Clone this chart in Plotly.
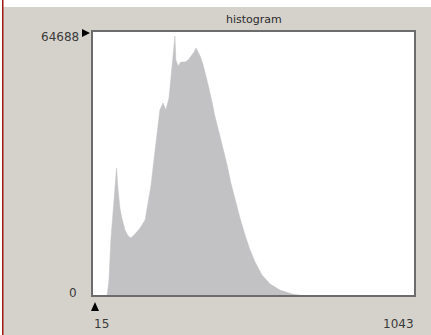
import plotly.graph_objects as go

# Histogram of pixel intensities (intensity level -> pixel count)
intensity = [63, 69, 75, 82, 88, 93, 98, 104, 110, 120, 130, 139, 152, 168, 184,
             193, 203, 212, 222, 231, 241, 250, 260, 270, 276, 279, 282, 289, 298,
             311, 321, 330, 340, 346, 352, 359, 368, 378, 387, 397, 406, 419, 432,
             445, 457, 470, 486, 502, 518, 534, 556, 582, 613, 652, 693]
counts = [0, 3906, 13670, 19772, 27095, 31245, 25874, 21481, 19040, 16111, 14646,
          14158, 15135, 16600, 18552, 22213, 27095, 33197, 39300, 45403, 47112,
          45403, 48333, 55656, 60050, 63468, 57609, 56145, 57121, 57121, 57609,
          58586, 59562, 60539, 59562, 58586, 56633, 53704, 50775, 47356, 43939,
          40033, 36127, 31977, 27583, 23434, 19040, 14890, 11229, 8300, 5126,
          2929, 1465, 488, 0]

x_min, x_max = 15, 1043
y_max = 64688
title_text = "histogram"

W, H = 431, 335
L, R, T, B = 92, 16, 31, 39
BG = "#d5d2cc"
FONT = "DejaVu Sans"

fig = go.Figure()
fig.add_trace(go.Scatter(
    x=intensity, y=counts, mode="lines", fill="tozeroy",
    fillcolor="#c2c2c5", line=dict(color="#c2c2c5", width=0.5),
    hoverinfo="skip", showlegend=False,
))

pw, ph = W - L - R, H - T - B


def px_x(p):
    return (p - L) / pw


def px_y(p):
    return (H - B - p) / ph


def tri_path(points):
    # closed path through window pixel positions, in paper units
    parts = [f"{'M' if i == 0 else 'L'} {px_x(a):.5f} {px_y(b):.5f}"
             for i, (a, b) in enumerate(points)]
    return " ".join(parts) + " Z"


shapes = [
    # top white strip and left edge line of the window
    dict(type="rect", xref="paper", yref="paper", x0=px_x(0), x1=px_x(W),
         y0=px_y(7), y1=px_y(0), fillcolor="white", line_width=0),
    dict(type="rect", xref="paper", yref="paper", x0=px_x(0), x1=px_x(2),
         y0=px_y(H), y1=px_y(0), fillcolor="white", line_width=0),
    dict(type="rect", xref="paper", yref="paper", x0=px_x(2), x1=px_x(3.5),
         y0=px_y(H), y1=px_y(0), fillcolor="#a01818", line_width=0),
    # plot frame
    dict(type="rect", xref="paper", yref="paper", x0=0, x1=1, y0=0, y1=1,
         line=dict(color="#6c6c6c", width=2)),
    # threshold markers
    dict(type="path", xref="paper", yref="paper",
         path=tri_path([(82, 29), (90, 33), (82, 37)]),
         fillcolor="black", line_width=0),
    dict(type="path", xref="paper", yref="paper",
         path=tri_path([(91, 311), (95, 302), (99, 311)]),
         fillcolor="black", line_width=0),
]

label_font = dict(family=FONT, size=12, color="#3a3a3a")
annotations = [
    dict(text=title_text, xref="paper", yref="paper", x=0.5, y=1, yanchor="bottom",
         yshift=3, showarrow=False, font=dict(family=FONT, size=11, color="#2a2a2a")),
    dict(text=str(y_max), xref="paper", yref="y", x=0, y=y_max, xanchor="right",
         yanchor="middle", xshift=-11, yshift=-6, showarrow=False, font=label_font),
    dict(text="0", xref="paper", yref="y", x=0, y=0, xanchor="right",
         yanchor="middle", xshift=-13, yshift=3, showarrow=False, font=label_font),
    dict(text=str(x_min), xref="x", yref="paper", x=x_min, y=0, xanchor="left",
         yanchor="middle", xshift=0, yshift=-28, showarrow=False, font=label_font),
    dict(text=str(x_max), xref="x", yref="paper", x=x_max, y=0, xanchor="right",
         yanchor="middle", xshift=1, yshift=-28, showarrow=False, font=label_font),
]

fig.update_layout(
    width=W, height=H,
    margin=dict(l=L, r=R, t=T, b=B, pad=0),
    paper_bgcolor=BG, plot_bgcolor="white",
    xaxis=dict(range=[x_min, x_max], showgrid=False, zeroline=False,
               showticklabels=False, ticks="", fixedrange=True),
    yaxis=dict(range=[0, y_max], showgrid=False, zeroline=False,
               showticklabels=False, ticks="", fixedrange=True),
    shapes=shapes, annotations=annotations,
)

fig.write_html("out.html", config={"displayModeBar": False})
